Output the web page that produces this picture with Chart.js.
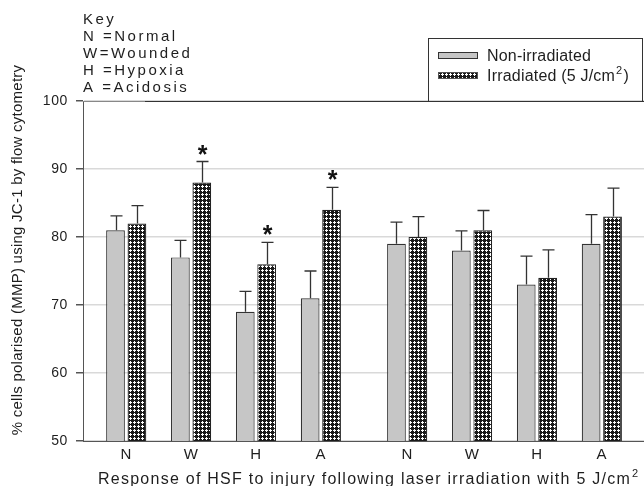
<!DOCTYPE html>
<html><head><meta charset="utf-8">
<script src="https://cdn.jsdelivr.net/npm/chart.js@4.4.1/dist/chart.umd.min.js"></script>
<style>html,body{margin:0;padding:0;background:#fff;}#wrap{width:644px;height:486px;position:relative;}</style>
</head><body><div id="wrap"><canvas id="c"></canvas></div>
<script>
// ---- data ----
const categories = ['N','W','H','A','N','W','H','A'];
const nonIrradiated = [81,77,69,71,79,78,73,79];
const nonIrradiatedErr = [2.1,2.5,3.0,4.0,3.2,2.9,4.2,4.3];
const irradiated = [82,88,76,84,80,81,74,83];
const irradiatedErr = [2.6,3.1,3.2,3.3,3.0,2.9,4.1,4.2];
const significant = [false,true,true,true,false,false,false,false];
const yTicks = [50,60,70,80,90,100];
const keyLines = ['Key','N =Normal','W=Wounded','H =Hypoxia','A =Acidosis'];
const seriesNames = ['Non-irradiated','Irradiated (5 J/cm²)'];
const xTitle = 'Response of HSF to injury following laser irradiation with 5 J/cm²';
const yTitle = '% cells polarised (MMP) using JC-1 by flow cytometry';

// ---- layout helpers ----
const FONT = "'Liberation Sans', Arial, sans-serif";
const groupPos = i => i + (i >= 4 ? 0.33 : 0);

function makeHatch(){
  const c = document.createElement('canvas'); c.width = 4; c.height = 4;
  const g = c.getContext('2d');
  g.fillStyle = '#1a1a1a'; g.fillRect(0,0,4,4);
  g.fillStyle = '#ffffff';
  [[2,1],[1,2],[2,2],[3,2],[2,3]].forEach(p=>g.fillRect(p[0],p[1],1,1));
  return g.createPattern(c,'repeat');
}
const hatch = makeHatch();
const GRAY = '#c6c6c6';

function drawRich(ctx, text, x, y, size, spacing){
  const parts = text.split('²');
  ctx.letterSpacing = spacing + 'px';
  ctx.textAlign = 'left'; ctx.textBaseline = 'alphabetic';
  let cx = x;
  parts.forEach((p, k) => {
    ctx.font = size + 'px ' + FONT;
    ctx.fillText(p, cx, y);
    cx += ctx.measureText(p).width;
    if (k < parts.length - 1){
      const ss = Math.round(size*0.68);
      ctx.font = ss + 'px ' + FONT;
      ctx.fillText('2', cx + 1, y - size*0.42);
      cx += ctx.measureText('2').width + 2;
    }
  });
}

const overlay = {
  id: 'overlay',
  beforeDraw(chart){ chart.ctx.letterSpacing = '0.6px'; },
  afterDatasetsDraw(chart){
    const ctx = chart.ctx, y = chart.scales.y;
    const errs = [nonIrradiatedErr, irradiatedErr];
    const vals = [nonIrradiated, irradiated];
    ctx.save();
    ctx.strokeStyle = '#333'; ctx.lineWidth = 1.3;
    chart.data.datasets.forEach((ds, d) => {
      chart.getDatasetMeta(d).data.forEach((bar, i) => {
        const top = y.getPixelForValue(vals[d][i] + errs[d][i]);
        const bx = Math.round(bar.x) + 0.5;
        ctx.beginPath();
        ctx.moveTo(bx, bar.y); ctx.lineTo(bx, top);
        ctx.moveTo(bx - 6, top); ctx.lineTo(bx + 6, top);
        ctx.stroke();
        if (d === 1 && significant[i]){
          ctx.fillStyle = '#111';
          ctx.letterSpacing = '0px';
          ctx.font = 'bold 25px ' + FONT;
          ctx.textAlign = 'center'; ctx.textBaseline = 'alphabetic';
          ctx.fillText('*', bx, top + 1);
        }
      });
    });
    ctx.restore();
  },
  afterDraw(chart){
    const ctx = chart.ctx, a = chart.chartArea;
    ctx.save();
    // top border
    ctx.lineWidth = 1;
    ctx.strokeStyle = '#888';
    ctx.beginPath(); ctx.moveTo(a.left, a.top + 0.5); ctx.lineTo(145, a.top + 0.5); ctx.stroke();
    ctx.strokeStyle = '#333';
    ctx.beginPath(); ctx.moveTo(145, a.top + 0.5); ctx.lineTo(a.right, a.top + 0.5); ctx.stroke();
    // legend box
    ctx.strokeStyle = '#333';
    ctx.strokeRect(428.5, 38.5, 214, a.top - 38);
    ctx.fillStyle = GRAY; ctx.fillRect(438, 52, 40, 7);
    ctx.strokeRect(438.5, 52.5, 39, 6);
    ctx.fillStyle = hatch; ctx.fillRect(438, 72, 40, 7);
    ctx.strokeStyle = '#555'; ctx.strokeRect(438.5, 72.5, 39, 6);
    ctx.fillStyle = '#1e1e1e';
    drawRich(ctx, seriesNames[0], 487, 61, 16, 0.2);
    drawRich(ctx, seriesNames[1], 487, 81, 16, 0.2);
    // key
    const keyBase = [24, 41, 58, 75, 92];
    keyLines.forEach((t, k) => drawRich(ctx, t, 83, keyBase[k], 15, 2.5));
    // x title
    drawRich(ctx, xTitle, 98, 484, 16, 1.25);
    // y title
    ctx.save();
    ctx.translate(18, 250); ctx.rotate(-Math.PI/2);
    ctx.font = '15px ' + FONT; ctx.letterSpacing = '0.25px';
    ctx.textAlign = 'center'; ctx.textBaseline = 'middle';
    ctx.fillText(yTitle, 0, 0);
    ctx.restore();
    ctx.restore();
  }
};

new Chart(document.getElementById('c'), {
  type: 'bar',
  data: {
    datasets: [
      { label: seriesNames[0], data: nonIrradiated.map((v,i)=>({x: groupPos(i), y: v})),
        backgroundColor: GRAY, borderColor: '#333', borderWidth: 1.2 },
      { label: seriesNames[1], data: irradiated.map((v,i)=>({x: groupPos(i), y: v})),
        backgroundColor: hatch, borderColor: '#222', borderWidth: 1.2 }
    ]
  },
  options: {
    responsive: true, maintainAspectRatio: false, animation: false,
    categoryPercentage: 0.66, barPercentage: 0.875,
    layout: { padding: { top: 101, left: 0, right: 0, bottom: 0 } },
    plugins: { legend: { display: false }, tooltip: { enabled: false }, title: { display: false } },
    scales: {
      x: {
        type: 'linear', min: -0.666, max: 7.98, offset: false,
        afterBuildTicks: s => { s.ticks = categories.map((c,i)=>({ value: groupPos(i) })); },
        afterFit: s => { s.height = 45; },
        grid: { display: false, drawTicks: false },
        border: { display: true, color: '#555', width: 1 },
        ticks: { autoSkip: false, maxRotation: 0, padding: 5, color: '#1e1e1e',
          font: { family: FONT, size: 15 }, callback: (v, i) => categories[i] }
      },
      y: {
        min: 50, max: 100,
        afterBuildTicks: s => { s.ticks = yTicks.map(v => ({ value: v })); },
        afterFit: s => { s.width = 83; },
        grid: { color: '#d9d9d9', lineWidth: 1.5, tickColor: '#555', tickLength: 7, drawTicks: true },
        border: { display: true, color: '#555', width: 1 },
        ticks: { padding: 8, color: '#1e1e1e', font: { family: FONT, size: 14 } }
      }
    }
  },
  plugins: [overlay]
});
</script></body></html>
